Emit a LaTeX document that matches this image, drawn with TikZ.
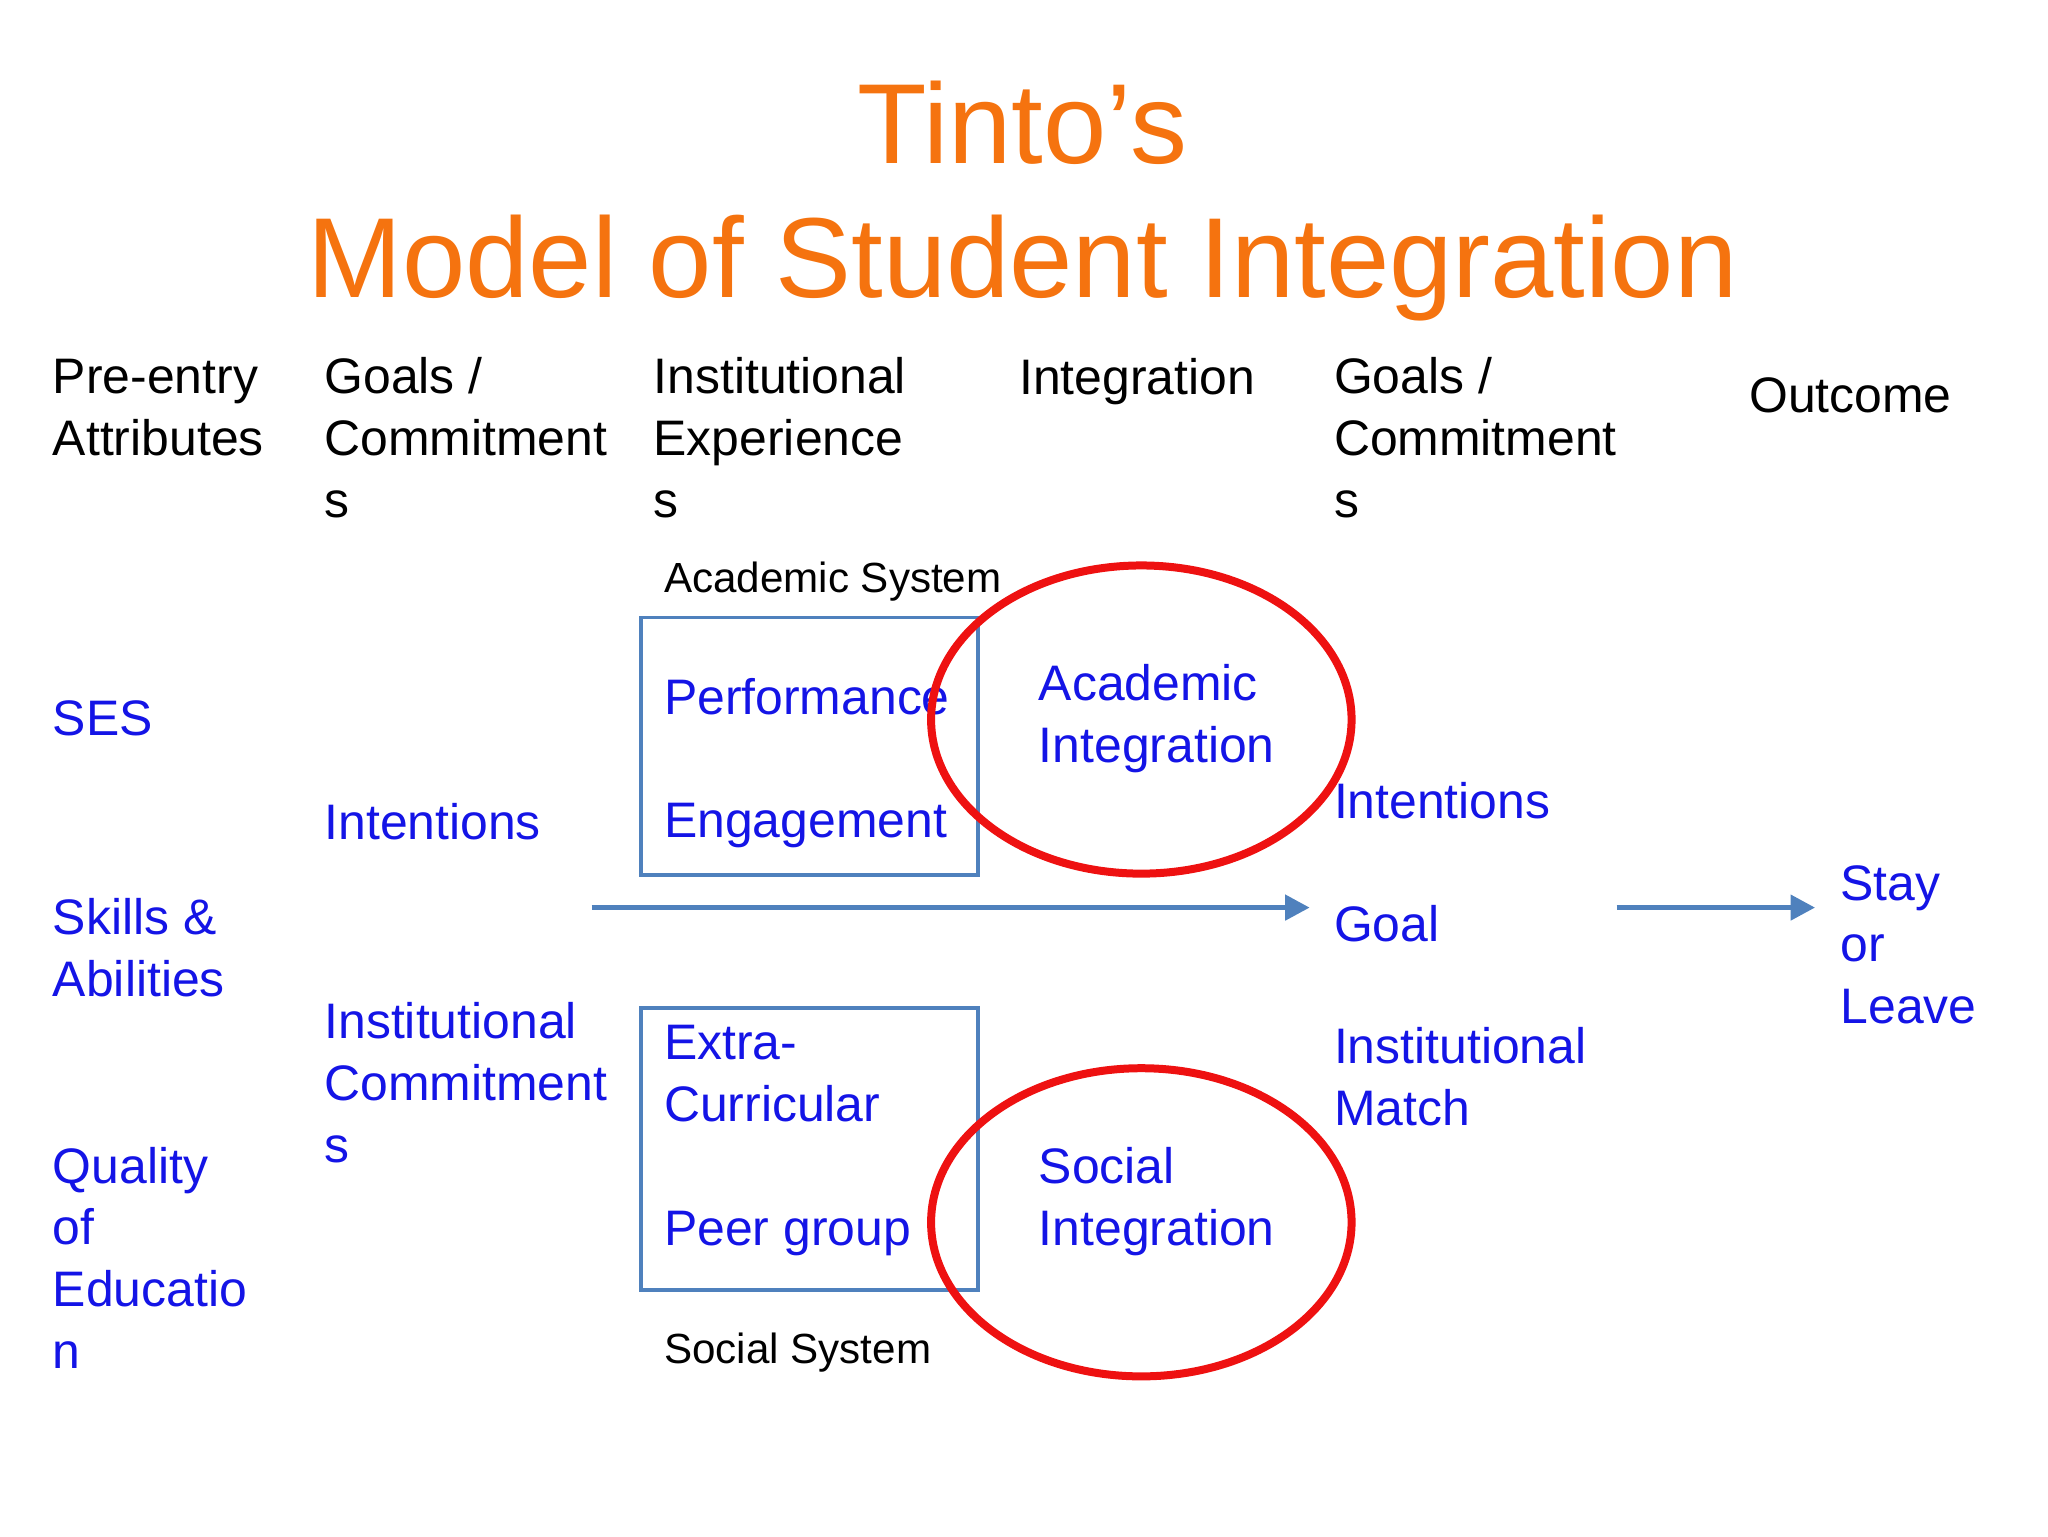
\documentclass[tikz,border=0pt]{standalone}
\usepackage{fontspec}
\usetikzlibrary{arrows.meta}
\setmainfont{Liberation Sans}
\definecolor{tblue}{HTML}{1414E6}
\definecolor{torange}{HTML}{F5730F}
\definecolor{lblue}{HTML}{4F81BD}
\definecolor{tred}{HTML}{EE1111}
\begin{document}
\begin{tikzpicture}[x=0.013196cm,y=-0.013196cm,
  txt/.style={anchor=base west,inner sep=0pt,align=left,font=\fontsize{14.2}{17.6}\selectfont},
  btxt/.style={txt,text=tblue},
  small/.style={anchor=base west,inner sep=0pt,font=\fontsize{12}{14}\selectfont},
  title/.style={anchor=base,inner sep=0pt,text=torange,font=\fontsize{32.4}{40}\selectfont},
  sbox/.style={draw=lblue,line width=1pt},
  arr/.style={draw=lblue,line width=1.6pt,-{Stealth[length=7pt,width=7pt,inset=0pt]}}]
\useasboundingbox (0,0) rectangle (1552,1164);
\begin{scope}[x=0.01306cm,y=-0.01306cm]
\node[title] (t1) at (783,125) {Tinto’s};
\node[title] (t2) at (783,228) {Model of Student Integration};
\node[txt] (h1) at (40,349) {Pre-entry\\Attributes};
\node[txt] (h2) at (248,396) {Goals /\\Commitment\\s};
\node[txt] (h3) at (500,396) {Institutional\\Experience\\s};
\node[txt] (h4) at (780,302) {Integration};
\node[txt] (h5) at (1021,396) {Goals /\\Commitment\\s};
\node[txt] (h6) at (1339,316) {Outcome};
\node[small] (as) at (508,454) {Academic System};
\node[small] (ss) at (508,1044) {Social System};
\draw[sbox] (491,473) rectangle (749,670);
\draw[sbox] (491,772) rectangle (749,988);
\node[btxt] (perf) at (508,547) {Performance};
\node[btxt] (eng) at (508,641) {Engagement};
\node[btxt] (ec) at (508,859) {Extra-\\Curricular};
\node[btxt] (pg) at (508,954) {Peer group};
\draw[draw=tred,line width=0.08cm] (874,551) ellipse [x radius=161,y radius=118];
\draw[draw=tred,line width=0.08cm] (874,936) ellipse [x radius=161,y radius=118];
\node[btxt] (ai) at (795,584) {Academic\\Integration};
\node[btxt] (si) at (795,954) {Social\\Integration};
\node[btxt] (ses) at (40,563) {SES};
\node[btxt] (sk) at (40,763) {Skills \&\\Abilities};
\node[btxt] (qe) at (40,1048) {Quality\\of\\Educatio\\n};
\node[btxt] (int1) at (248,643) {Intentions};
\node[btxt] (ic) at (248,890) {Institutional\\Commitment\\s};
\node[btxt] (int2) at (1021,627) {Intentions};
\node[btxt] (goal) at (1021,721) {Goal};
\node[btxt] (im) at (1021,862) {Institutional\\Match};
\node[btxt] (sl) at (1409,784) {Stay\\or\\Leave};
\coordinate (a1s) at (453,695);
\coordinate (a1e) at (1003,695);
\coordinate (a2s) at (1238,695);
\coordinate (a2e) at (1390,695);
\draw[arr] (a1s) -- (a1e);
\draw[arr] (a2s) -- (a2e);
\end{scope}
\end{tikzpicture}
\end{document}
